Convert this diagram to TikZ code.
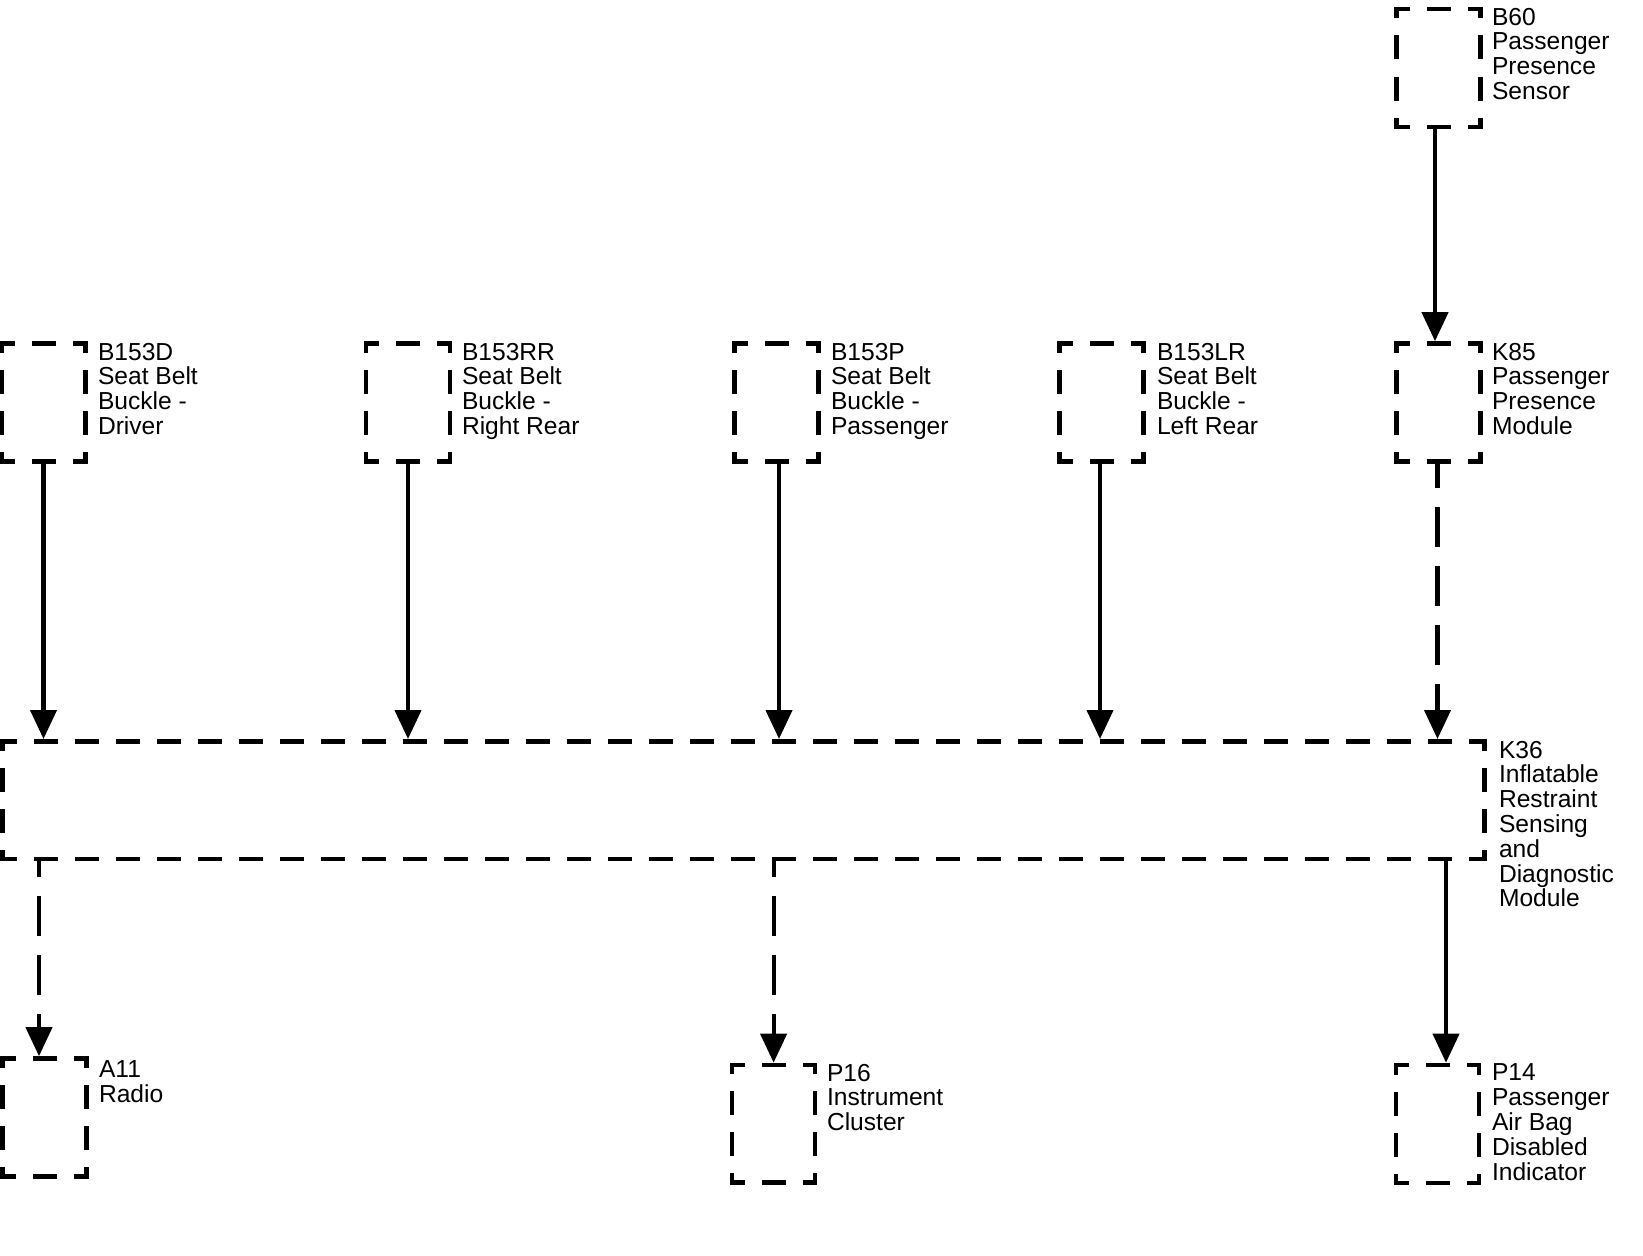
\documentclass[tikz,border=0pt]{standalone}
\usepackage{fontspec}
\setmainfont{Liberation Sans}
\usetikzlibrary{arrows.meta}
\def\bw{4.6}
\newcommand{\dashside}[3]{%
  \pgfmathsetmacro{\dsk}{round(#3/41)}%
  \pgfmathsetmacro{\dson}{24-\bw}%
  \pgfmathsetmacro{\dsoff}{17+\bw}%
  \pgfmathsetmacro{\dsphase}{max(0,\dson+\bw/2-(#3+24-\dsk*41)/2)}%
  \draw[boxline, dash pattern=on \dson pt off \dsoff pt, dash phase=\dsphase pt] #1 -- #2;%
}
\newcommand{\dashedbox}[3]{%
  \dashside{(#1.north west)}{(#1.north east)}{#2}%
  \dashside{(#1.north east)}{(#1.south east)}{#3}%
  \dashside{(#1.south east)}{(#1.south west)}{#2}%
  \dashside{(#1.south west)}{(#1.north west)}{#3}%
}
\begin{document}
\begin{tikzpicture}[x=1pt,y=-1pt,
  boxnode/.style={draw=none, inner sep=0pt, outer sep=0pt, rectangle},
  boxline/.style={line width=\bw pt, line cap=rect, black},
  conn/.style={line width=4.2pt, black, -{Triangle[width=26pt,length=29pt]}, shorten >=2.3pt},
  dconn/.style={conn, dash pattern=on 40pt off 19pt},
  lbl/.style={anchor=north west, inner sep=0pt, outer sep=0pt, align=left,
    font=\fontsize{24.6}{24.8}\selectfont}
]
\useasboundingbox (0,0) rectangle (1643,1255);

% boxes
\node[boxnode, minimum width=84pt, minimum height=118pt] (B60) at (1438.5,68) {};
\node[boxnode, minimum width=84pt, minimum height=118pt] (B153D) at (43.5,402.5) {};
\node[boxnode, minimum width=84pt, minimum height=118pt] (B153RR) at (408,402.5) {};
\node[boxnode, minimum width=84pt, minimum height=118pt] (B153P) at (776.5,402.5) {};
\node[boxnode, minimum width=84pt, minimum height=118pt] (B153LR) at (1101.5,402.5) {};
\node[boxnode, minimum width=84pt, minimum height=118pt] (K85) at (1438.5,402.5) {};
\node[boxnode, minimum width=1481.7pt, minimum height=117.7pt] (K36) at (743.35,800.15) {};
\node[boxnode, minimum width=84pt, minimum height=118pt] (A11) at (44.5,1117.5) {};
\node[boxnode, minimum width=83pt, minimum height=117.5pt] (P16) at (773.6,1123.75) {};
\node[boxnode, minimum width=83pt, minimum height=118pt] (P14) at (1437.5,1124) {};

\dashedbox{B60}{84}{118}
\dashedbox{B153D}{84}{118}
\dashedbox{B153RR}{84}{118}
\dashedbox{B153P}{84}{118}
\dashedbox{B153LR}{84}{118}
\dashedbox{K85}{84}{118}
\dashedbox{K36}{1481.7}{117.7}
\dashedbox{A11}{84}{118}
\dashedbox{P16}{83}{117.5}
\dashedbox{P14}{83}{118}

% labels
\node[lbl] (tB60) at (1492,8) {B60\\Passenger\\Presence\\Sensor};
\node[lbl] (tB153D) at (98,343) {B153D\\Seat Belt\\Buckle -\\Driver};
\node[lbl] (tB153RR) at (462,343) {B153RR\\Seat Belt\\Buckle -\\Right Rear};
\node[lbl] (tB153P) at (831,343) {B153P\\Seat Belt\\Buckle -\\Passenger};
\node[lbl] (tB153LR) at (1157,343) {B153LR\\Seat Belt\\Buckle -\\Left Rear};
\node[lbl] (tK85) at (1492,343) {K85\\Passenger\\Presence\\Module};
\node[lbl] (tK36) at (1499,741) {K36\\Inflatable\\Restraint\\Sensing\\and\\Diagnostic\\Module};
\node[lbl] (tA11) at (99,1061) {A11\\Radio};
\node[lbl] (tP16) at (827,1064) {P16\\Instrument\\Cluster};
\node[lbl] (tP14) at (1492,1064) {P14\\Passenger\\Air Bag\\Disabled\\Indicator};

% connectors
\draw[conn] ([xshift=-3.5pt]B60.south) -- ([xshift=-3.5pt]K85.north);
\draw[conn] (B153D.south) -- (B153D.south |- K36.north);
\draw[conn] (B153RR.south) -- (B153RR.south |- K36.north);
\draw[conn] ([xshift=2.5pt]B153P.south) -- ([xshift=2.5pt]B153P.south |- K36.north);
\draw[conn] ([xshift=-1.5pt]B153LR.south) -- ([xshift=-1.5pt]B153LR.south |- K36.north);
\draw[dconn, dash phase=14pt] ([xshift=-1pt]K85.south) -- ([xshift=-1pt]K85.south |- K36.north);
\draw[dconn, dash phase=22pt] ([xshift=-5.5pt]A11.north |- K36.south) -- ([xshift=-5.5pt]A11.north);
\draw[dconn, dash phase=22pt] (P16.north |- K36.south) -- (P16.north);
\draw[conn] ([xshift=8.5pt]P14.north |- K36.south) -- ([xshift=8.5pt]P14.north);
\end{tikzpicture}
\end{document}
